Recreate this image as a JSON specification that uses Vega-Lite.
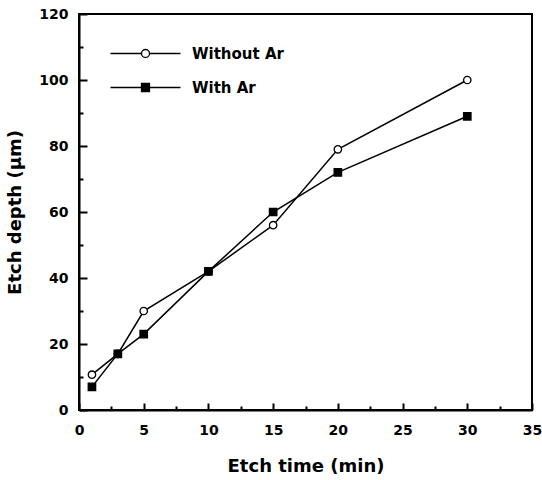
{
  "$schema": "https://vega.github.io/schema/vega-lite/v6.json",
  "width": 453,
  "height": 396,
  "autosize": "none",
  "padding": {"left": 79, "top": 14, "right": 10, "bottom": 70},
  "background": "white",
  "config": {
    "view": {"stroke": "black", "strokeWidth": 2},
    "axis": {
      "grid": false,
      "domainColor": "black",
      "domainWidth": 2,
      "tickColor": "black",
      "tickWidth": 2,
      "labelColor": "black",
      "labelFont": "DejaVu Sans",
      "labelFontWeight": "bold",
      "labelFontSize": 14,
      "titleColor": "black",
      "titleFont": "DejaVu Sans",
      "titleFontWeight": "bold",
      "titleFontSize": 18
    }
  },
  "data": {
    "values": [
      {"series": "Without Ar", "time": 1, "depth": 10.7},
      {"series": "Without Ar", "time": 3, "depth": 17},
      {"series": "Without Ar", "time": 5, "depth": 30},
      {"series": "Without Ar", "time": 10, "depth": 42},
      {"series": "Without Ar", "time": 15, "depth": 56},
      {"series": "Without Ar", "time": 20, "depth": 79},
      {"series": "Without Ar", "time": 30, "depth": 100},
      {"series": "With Ar", "time": 1, "depth": 7},
      {"series": "With Ar", "time": 3, "depth": 17},
      {"series": "With Ar", "time": 5, "depth": 23},
      {"series": "With Ar", "time": 10, "depth": 42},
      {"series": "With Ar", "time": 15, "depth": 60},
      {"series": "With Ar", "time": 20, "depth": 72},
      {"series": "With Ar", "time": 30, "depth": 89}
    ]
  },
  "layer": [
    {
      "mark": {"type": "line", "color": "black", "strokeWidth": 1.5},
      "encoding": {
        "x": {
          "field": "time", "type": "quantitative",
          "scale": {"domain": [0, 35], "nice": false, "zero": false},
          "axis": {"orient": "bottom", "values": [0, 5, 10, 15, 20, 25, 30, 35], "ticks": false, "labelPadding": 13, "title": "Etch time (min)", "titlePadding": 20, "labelFlush": false}
        },
        "y": {
          "field": "depth", "type": "quantitative",
          "scale": {"domain": [0, 120], "nice": false, "zero": false},
          "axis": {"orient": "left", "values": [0, 20, 40, 60, 80, 100, 120], "ticks": false, "labelPadding": 11, "title": "Etch depth (μm)", "titlePadding": 14, "labelFlush": false}
        },
        "detail": {"field": "series"}
      }
    },
    {
      "mark": {"type": "point", "filled": false, "stroke": "black", "strokeWidth": 1.3, "opacity": 1},
      "encoding": {
        "x": {"field": "time", "type": "quantitative", "axis": null},
        "y": {"field": "depth", "type": "quantitative", "axis": null},
        "shape": {
          "field": "series", "type": "nominal",
          "scale": {"domain": ["Without Ar", "With Ar"], "range": ["circle", "square"]},
          "legend": null
        },
        "fill": {
          "field": "series", "type": "nominal",
          "scale": {"domain": ["Without Ar", "With Ar"], "range": ["white", "black"]},
          "legend": null
        },
        "size": {"value": 55}
      }
    },
    {
      "transform": [{"filter": "datum.time < 0"}],
      "mark": {"type": "point", "strokeWidth": 1.3, "opacity": 1},
      "encoding": {
        "x": {"field": "time", "type": "quantitative",
          "axis": {"orient": "bottom", "offset": -7, "values": [0, 5, 10, 15, 20, 25, 30, 35], "labels": false, "domain": false, "ticks": true, "tickSize": 7, "title": null}},
        "y": {"field": "depth", "type": "quantitative",
          "axis": {"orient": "left", "offset": -8, "values": [0, 20, 40, 60, 80, 100, 120], "labels": false, "domain": false, "ticks": true, "tickSize": 8, "title": null}},
        "shape": {
          "field": "series", "type": "nominal",
          "scale": {"domain": ["Without Ar", "With Ar"], "range": ["M-8.75,0L-1,0M1,0L8.75,0M-1,0A1,1,0,1,0,1,0A1,1,0,1,0,-1,0", "M-8.75,0L8.75,0M-1,-1L1,-1L1,1L-1,1Z"]},
          "legend": {
            "orient": "none", "legendX": 30, "legendY": 32, "title": null, "padding": 0,
            "symbolSize": 64, "symbolOffset": 29, "labelOffset": 39, "rowPadding": 18,
            "symbolStrokeWidth": 1.3,
            "labelFont": "DejaVu Sans", "labelFontWeight": "bold", "labelFontSize": 15, "labelColor": "black"
          }
        },
        "fill": {
          "field": "series", "type": "nominal",
          "scale": {"domain": ["Without Ar", "With Ar"], "range": ["white", "black"]},
          "legend": {
            "orient": "none", "legendX": 30, "legendY": 32, "title": null, "padding": 0,
            "symbolSize": 64, "symbolOffset": 29, "labelOffset": 39, "rowPadding": 18,
            "symbolStrokeWidth": 1.3,
            "labelFont": "DejaVu Sans", "labelFontWeight": "bold", "labelFontSize": 15, "labelColor": "black"
          }
        },
        "stroke": {
          "field": "series", "type": "nominal",
          "scale": {"domain": ["Without Ar", "With Ar"], "range": ["black", "black"]},
          "legend": {
            "orient": "none", "legendX": 30, "legendY": 32, "title": null, "padding": 0,
            "symbolSize": 64, "symbolOffset": 29, "labelOffset": 39, "rowPadding": 18,
            "symbolStrokeWidth": 1.3,
            "labelFont": "DejaVu Sans", "labelFontWeight": "bold", "labelFontSize": 15, "labelColor": "black"
          }
        }
      }
    },
    {
      "transform": [{"filter": "datum.time < 0"}],
      "mark": {"type": "point", "opacity": 0},
      "encoding": {
        "x": {"field": "time", "type": "quantitative",
          "axis": {"orient": "bottom", "offset": -4, "values": [2.5, 7.5, 12.5, 17.5, 22.5, 27.5, 32.5], "labels": false, "domain": false, "ticks": true, "tickSize": 4, "title": null}},
        "y": {"field": "depth", "type": "quantitative",
          "axis": {"orient": "left", "offset": -4, "values": [10, 30, 50, 70, 90, 110], "labels": false, "domain": false, "ticks": true, "tickSize": 4, "title": null}}
      }
    }
  ],
  "resolve": {
    "axis": {"x": "independent", "y": "independent"},
    "scale": {"shape": "independent", "fill": "independent", "stroke": "independent"},
    "legend": {"shape": "independent", "fill": "independent", "stroke": "independent"}
  }
}
